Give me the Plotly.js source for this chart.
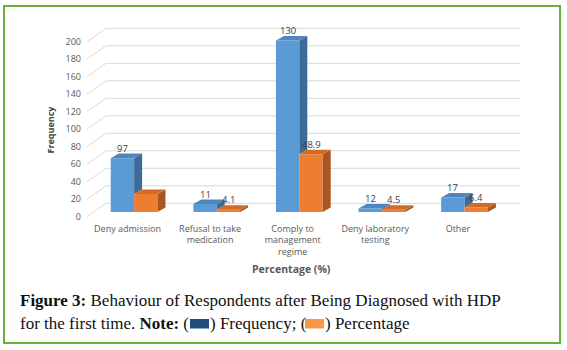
<!DOCTYPE html>
<html><head><meta charset="utf-8">
<script src="https://cdn.plot.ly/plotly-3.0.1.min.js"></script>
<style>html,body{margin:0;padding:0;background:#fff}#chart{width:567px;height:350px}</style>
</head><body><div id="chart"></div>
<script>
// ---- data ----
const categories = ['Deny admission', 'Refusal to take<br>medication', 'Comply to<br>management<br>regime', 'Deny laboratory<br>testing', 'Other'];
const frequencyHeights = [61.5, 9, 196, 4, 16.5];
const percentageHeights = [20.5, 2.5, 66, 2.5, 5];
const frequencyLabels = ['97', '11', '130', '12', '17'];
const percentageLabels = ['', '4.1', '48.9', '4.5', '6.4'];
const yTicks = [0, 20, 40, 60, 80, 100, 120, 140, 160, 180, 200];

// ---- style / geometry ----
const W = 567, H = 350;
const px = v => v / W, py = v => 1 - v / H;
const barW = 0.283, shift = 0.08, depthX = 0.097, depthY = 5.2, base0 = 5.4, backOff = 15.3;
const blue = {front: '#5b9bd5', side: '#3d6a96', top: '#4f86bf'};
const orange = {front: '#ed7d31', side: '#a95720', top: '#d26b25'};
const idx = categories.map((c, i) => i);

function facesTrace(lists, color) {
  const x = [], y = [];
  lists.forEach(p => { p.forEach(q => { x.push(q[0]); y.push(q[1]); }); x.push(p[0][0]); y.push(p[0][1]); x.push(null); y.push(null); });
  return {type: 'scatter', mode: 'lines', x: x, y: y, fill: 'toself', fillcolor: color, line: {width: 0, color: color}, hoverinfo: 'skip', showlegend: false};
}

const traces = [];
traces.push({type: 'bar', x: idx, y: frequencyHeights, base: base0, width: barW, offset: shift - barW,
  marker: {color: blue.front, line: {width: 0}}, name: 'Frequency', showlegend: false});
traces.push({type: 'bar', x: idx, y: percentageHeights, base: base0, width: barW, offset: shift,
  marker: {color: orange.front, line: {width: 0}}, name: 'Percentage', showlegend: false});

const bSide = [], bTop = [], oSide = [], oTop = [];
idx.forEach(i => {
  const c = i + shift;
  const bT = base0 + frequencyHeights[i], oT = base0 + percentageHeights[i];
  bSide.push([[c, oT], [c + depthX, oT + depthY], [c + depthX, bT + depthY], [c, bT]]);
  bTop.push([[c - barW, bT], [c, bT], [c + depthX, bT + depthY], [c - barW + depthX, bT + depthY]]);
  oSide.push([[c + barW, base0], [c + barW + depthX, base0 + depthY], [c + barW + depthX, oT + depthY], [c + barW, oT]]);
  oTop.push([[c, oT], [c + barW, oT], [c + barW + depthX, oT + depthY], [c + depthX, oT + depthY]]);
});
traces.push(facesTrace(bSide, blue.side));
traces.push(facesTrace(bTop, blue.top));
traces.push(facesTrace(oSide, orange.side));
traces.push(facesTrace(oTop, orange.top));

const shapes = [];
yTicks.forEach(v => {
  shapes.push({type: 'line', xref: 'paper', yref: 'y', x0: px(87), x1: px(106), y0: v, y1: v + backOff, line: {color: '#d9d9d9', width: 1}, layer: 'below'});
  shapes.push({type: 'line', xref: 'paper', yref: 'y', x0: px(106), x1: px(520), y0: v + backOff, y1: v + backOff, line: {color: '#d9d9d9', width: 1}, layer: 'below'});
});
shapes.push({type: 'rect', xref: 'paper', yref: 'paper', x0: px(4), x1: px(560), y0: py(343), y1: py(6), line: {color: '#6aae3e', width: 2}});
shapes.push({type: 'rect', xref: 'paper', yref: 'paper', x0: px(190), x1: px(209), y0: py(328.5), y1: py(319), line: {width: 0}, fillcolor: '#1f4e79'});
shapes.push({type: 'rect', xref: 'paper', yref: 'paper', x0: px(305), x1: px(324), y0: py(328.5), y1: py(319), line: {width: 0}, fillcolor: '#f79646'});

const lblFont = {family: 'Open Sans, sans-serif', size: 9.5, color: '#404040'};
const annotations = [];
idx.forEach(i => {
  const c = i + shift;
  annotations.push({x: c - barW / 2, y: base0 + frequencyHeights[i], xref: 'x', yref: 'y', text: frequencyLabels[i], showarrow: false, yanchor: 'middle', yshift: 10, font: lblFont});
  if (percentageLabels[i]) annotations.push({x: c + barW / 2, y: base0 + percentageHeights[i], xref: 'x', yref: 'y', text: percentageLabels[i], showarrow: false, yanchor: 'middle', yshift: 10, font: lblFont});
});
annotations.push({xref: 'paper', yref: 'paper', x: px(50), y: py(129.5), xanchor: 'center', yanchor: 'middle', text: '<b>Frequency</b>', textangle: -90, showarrow: false, font: {family: 'Open Sans, sans-serif', size: 9, color: '#404040'}});
annotations.push({xref: 'paper', yref: 'paper', x: px(291), y: py(269), xanchor: 'center', yanchor: 'middle', text: '<b>Percentage (%)</b>', showarrow: false, font: {family: 'Open Sans, sans-serif', size: 10.5, color: '#595959'}});
const capFont = {family: 'Liberation Serif, serif', size: 17, color: '#111'};
annotations.push({xref: 'paper', yref: 'paper', x: px(18), y: py(300), xanchor: 'left', yanchor: 'middle', text: '<b>Figure 3:</b> Behaviour of Respondents after Being Diagnosed with HDP', showarrow: false, font: capFont});
annotations.push({xref: 'paper', yref: 'paper', x: px(18), y: py(323), xanchor: 'left', yanchor: 'middle', text: 'for the first time. <b>Note:</b> (', showarrow: false, font: capFont});
annotations.push({xref: 'paper', yref: 'paper', x: px(208), y: py(323), xanchor: 'left', yanchor: 'middle', text: ') Frequency; (', showarrow: false, font: capFont});
annotations.push({xref: 'paper', yref: 'paper', x: px(323), y: py(323), xanchor: 'left', yanchor: 'middle', text: ') Percentage', showarrow: false, font: capFont});

const layout = {
  width: W, height: H, margin: {l: 0, r: 0, t: 0, b: 0},
  paper_bgcolor: '#fff', plot_bgcolor: 'rgba(0,0,0,0)',
  barmode: 'overlay', showlegend: false,
  xaxis: {domain: [px(106), px(520)], range: [-0.2603, 4.7518], tickvals: idx, ticktext: categories, ticklabelstandoff: 5,
    showgrid: false, zeroline: false, showline: false, ticks: '', tickfont: {family: 'Open Sans, sans-serif', size: 9, color: '#595959'}, fixedrange: true},
  yaxis: {domain: [py(216.7), py(24.2)], range: [0, 220], tickvals: yTicks, anchor: 'free', position: px(81), side: 'left',
    showgrid: false, zeroline: false, showline: false, ticks: '', tickfont: {family: 'Open Sans, sans-serif', size: 9, color: '#595959'}, fixedrange: true},
  shapes: shapes, annotations: annotations
};
Plotly.newPlot('chart', traces, layout, {displayModeBar: false, staticPlot: true});
</script></body></html>
